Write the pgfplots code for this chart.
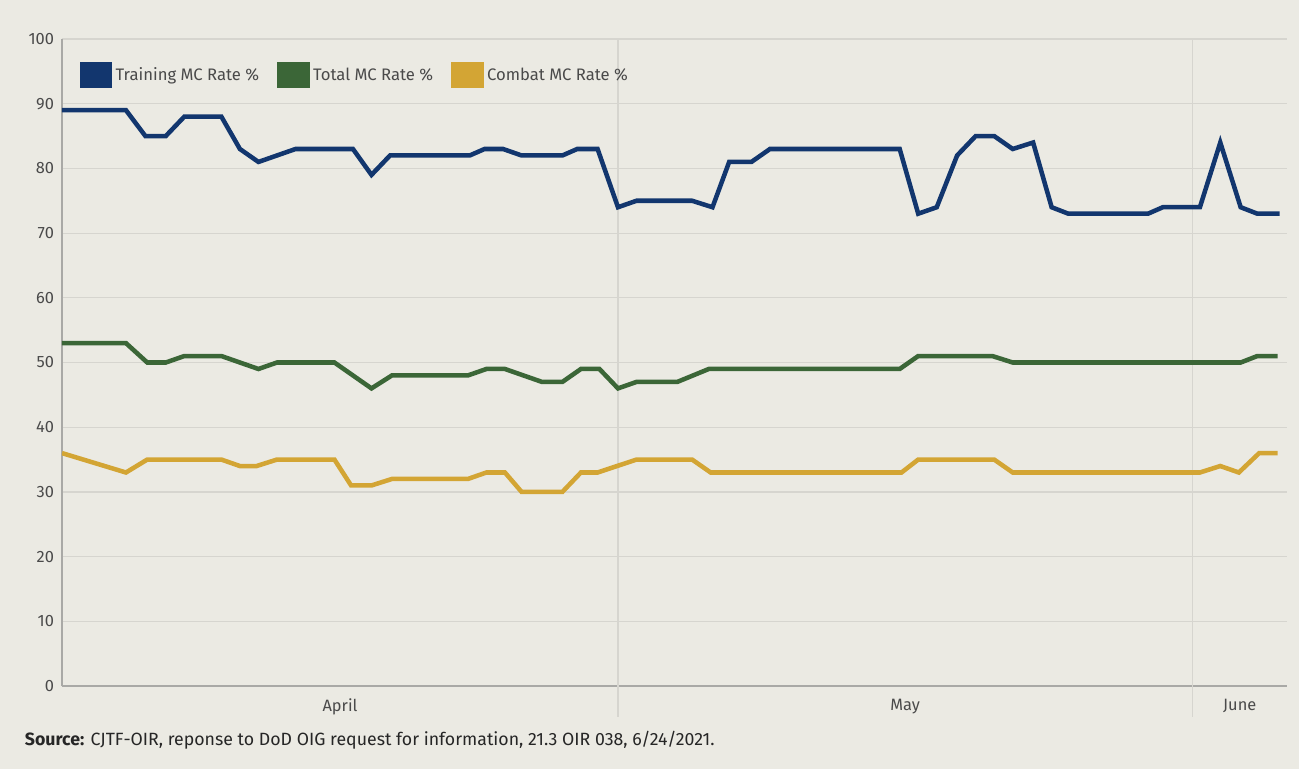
\documentclass[border=0pt]{standalone}
\usepackage{pgfplots}
\pgfplotsset{compat=1.18}
\usepackage{fontspec}
\setmainfont{Fira Sans}
\definecolor{bg}{HTML}{EBEAE3}
\definecolor{navy}{HTML}{12366E}
\definecolor{dgreen}{HTML}{3B6637}
\definecolor{gold}{HTML}{D3A534}
\definecolor{gridgray}{HTML}{D6D5CF}
\definecolor{axisgray}{HTML}{A9A9A6}
\definecolor{labelgray}{HTML}{4A4A4A}
\begin{document}
\begin{tikzpicture}
\fill[bg] (0pt,0pt) rectangle (974.25pt,-576.75pt);
\begin{axis}[
  at={(46.5pt,-514.5pt)}, anchor=south west,
  scale only axis, width=918.75pt, height=485.25pt,
  xmin=0, xmax=66.1, ymin=0, ymax=100,
  axis x line*=bottom, axis y line*=left,
  axis line style={draw=axisgray, line width=1.2pt},
  ytick={0,10,...,100}, ymajorgrids,
  grid style={gridgray, line width=0.9pt},
  xtick={15,45.5,63.55}, xticklabels={April,May,June},
  major tick length=0pt,
  extra x ticks={30,61}, extra x tick labels={},
  extra x tick style={xmajorgrids=true, major tick length=23pt, tick align=outside,
     tick style={gridgray, line width=0.9pt}},
  /pgf/number format/assume math mode=true,
  tick label style={font=\fontsize{12.3}{14}\selectfont, text=labelgray},
  yticklabel style={xshift=-2.5pt},
  xticklabel style={yshift=-6pt},
  legend style={at={(0.011,0.969)}, anchor=north west, draw=none, fill=none,
     legend columns=-1, font=\fontsize{12.5}{14}\selectfont, text=labelgray,
     nodes={inner sep=2.5pt},
     /tikz/every even column/.append style={column sep=11pt}},
  legend image code/.code={\fill[#1] (0pt,-8pt) rectangle (21pt,8pt);},
  every axis plot/.append style={line width=3.4pt, line join=miter},
]
\addplot[color=navy] coordinates {
(0,89)(3.45,89)(4.5,85)(5.6,85)(6.6,88)(8.6,88)(9.6,83)(10.6,81)(12.6,83)(15.7,83)
(16.7,79)(17.7,82)(22.0,82)(22.8,83)(23.8,83)(24.8,82)(27.0,82)(27.8,83)(28.9,83)
(30.0,74)(31.0,75)(34.0,75)(35.1,74)(36.0,81)(37.2,81)(38.2,83)(45.2,83)(46.2,73)
(47.2,74)(48.3,82)(49.3,85)(50.3,85)(51.3,83)(52.4,84)(53.4,74)(54.3,73)(58.6,73)
(59.4,74)(61.4,74)(62.5,84)(63.6,74)(64.5,73)(65.7,73)};
\addlegendentry{Training MC Rate \%}
\addplot[color=dgreen] coordinates {
(0,53)(3.45,53)(4.6,50)(5.6,50)(6.6,51)(8.6,51)(10.6,49)(11.6,50)(14.7,50)(16.7,46)
(17.8,48)(21.9,48)(22.9,49)(23.9,49)(25.9,47)(27.0,47)(28.0,49)(29.0,49)(30.0,46)
(31.0,47)(33.2,47)(34.9,49)(45.2,49)(46.2,51)(50.2,51)(51.3,50)(63.6,50)(64.5,51)(65.6,51)};
\addlegendentry{Total MC Rate \%}
\addplot[color=gold] coordinates {
(0,36)(3.45,33)(4.6,35)(8.6,35)(9.6,34)(10.5,34)(11.6,35)(14.7,35)(15.6,31)(16.7,31)
(17.8,32)(21.9,32)(22.9,33)(23.9,33)(24.8,30)(27.0,30)(28.0,33)(28.9,33)(31.0,35)
(34.0,35)(35.0,33)(45.3,33)(46.2,35)(50.3,35)(51.3,33)(61.4,33)(62.5,34)(63.5,33)
(64.6,36)(65.6,36)};
\addlegendentry{Combat MC Rate \%}
\end{axis}
\node[anchor=west, inner sep=0pt, text=black!85, font=\fontsize{13.3}{15}\selectfont]
  at (18.5pt,-555pt) {\textbf{Source:} CJTF-OIR, reponse to DoD OIG request for information, 21.3 OIR 038, 6/24/2021.};
\pgfresetboundingbox
\useasboundingbox (0pt,0pt) rectangle (974.25pt,-576.75pt);
\end{tikzpicture}
\end{document}
